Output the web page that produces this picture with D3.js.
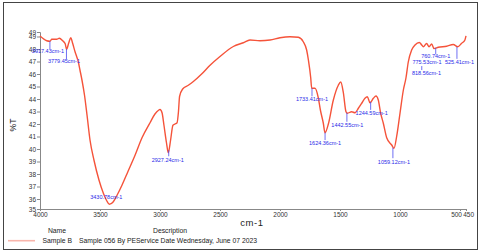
<!DOCTYPE html>
<html><head><meta charset="utf-8">
<script src="https://cdn.jsdelivr.net/npm/d3@7"></script>
<style>
html,body{margin:0;padding:0;background:#fff;}
svg{display:block;font-family:"Liberation Sans",Arial,sans-serif;}
</style></head>
<body><svg id="c" width="480" height="252"></svg>
<script>
// ---- data ----
const wavenumber = [4000,3944,3917,3902,3861,3839,3811,3790,3779,3760,3744,3728,3708,3694,3681,3667,3650,3629,3608,3583,3550,3508,3472,3444,3422,3389,3358,3317,3267,3208,3150,3083,3042,3012,3000,2983,2967,2946,2931,2912,2892,2875,2858,2846,2837,2811,2764,2722,2653,2583,2500,2389,2306,2250,2167,2083,2000,1917,1847,1806,1778,1763,1744,1736,1708,1681,1663,1639,1625,1597,1556,1514,1494,1472,1450,1439,1403,1375,1347,1319,1292,1272,1250,1222,1200,1181,1161,1139,1111,1069,1050,1028,1000,972,950,931,903,875,839,819,806,778,758,736,717,681,611,556,519,486,460,450];
const transmittance = [49.04,48.66,48.62,48.78,48.78,48.86,48.66,48.42,47.98,48.5,48.9,48.46,47.78,47.38,46.98,46.32,45.5,44.3,42.7,40.7,39.1,37.5,36.46,35.86,35.58,35.78,36.3,37.1,38.2,39.5,40.9,42.1,42.8,43.1,43.16,42.9,41.9,40.5,39.7,40.7,41.9,42.0,42.1,43.0,44.2,44.8,45.1,45.4,46.0,46.7,47.4,48.2,48.5,48.72,48.66,48.72,48.9,48.98,48.94,48.58,47.92,47.1,45.7,44.86,44.86,44.1,43.1,42.06,41.3,42.0,43.9,45.1,45.36,44.5,42.98,42.86,42.98,42.9,43.26,43.66,44.06,44.18,43.7,44.06,44.24,43.92,42.86,42.06,40.9,40.32,40.06,41.0,42.86,44.72,45.7,46.96,47.92,48.32,48.52,48.32,48.18,48.44,48.18,48.4,48.04,48.14,48.22,48.36,48.18,48.46,48.7,49.05];
const peakWn = [3917.43,3779.45,3430.78,2927.24,1733.41,1624.36,1442.55,1244.59,1059.12,818.56,775.53,760.74,525.41];
const peakLabels = peakWn.map(w => w.toFixed(2) + "cm-1");
const xTicks = [4000,3500,3000,2500,2000,1500,1000,500,450];
const yTicks = [35.2,36,37,38,39,40,41,42,43,44,45,46,47,48,49,49.36];
const seriesName = "Sample B";
const seriesDesc = "Sample 056 By PEService Date Wednesday, June 07 2023";

// ---- layout (label placement, px relative to the peak point) ----
// [text dx, text dy, line start, line end]
const peakLayout = [
  [-2, 9.5, 0, 8],
  [-2.5, 12, 0, 10],
  [-2, -5.5, null, null],
  [-1, 9.5, 0, 6],
  [0, 11, 0, 8],
  [0, 10.5, 0, 7.5],
  [0.5, 12, 0, 9],
  [1, 11, 0, 8],
  [1, 15, 1, 11.5],
  [4.7, 28.3, 21, 25],
  [0, 18.3, null, null],
  [7, 10.2, 1.5, 8],
  [2.5, 15.5, 0.5, 12.5]
];

const svg = d3.select("#c");
const x = d3.scaleLinear().domain([4000, 450]).range([40, 466]);
const y = d3.scaleLinear().domain([35.2, 49.36]).range([209, 32]);

// outer frame
svg.append("rect").attr("x", 3.5).attr("y", 2.5).attr("width", 474).attr("height", 247)
  .attr("fill", "none").attr("stroke", "#444").attr("stroke-width", 1);

// axes
const xAxis = d3.axisBottom(x).tickValues(xTicks).tickSize(2).tickPadding(1).tickFormat(d3.format("d"));
const gx = svg.append("g").attr("transform", "translate(0,209)").call(xAxis);
const yAxis = d3.axisLeft(y).tickValues(yTicks).tickSize(3).tickPadding(1).tickFormat(d => String(Math.floor(d)));
const gy = svg.append("g").attr("transform", "translate(40,0)").call(yAxis);
[gx, gy].forEach(g => {
  g.select(".domain").attr("stroke", "#888");
  g.selectAll(".tick line").attr("stroke", "#888");
  g.selectAll(".tick text").attr("fill", "#333").attr("font-size", "6.5px")
   .attr("font-family", "Liberation Sans, Arial, sans-serif");
});
// the two closely spaced end ticks print side by side ("500450")
gx.selectAll(".tick").filter(d => d === 500).select("text").attr("text-anchor", "end").attr("x", 1.5);
gx.selectAll(".tick").filter(d => d === 450).select("text").attr("text-anchor", "start").attr("x", -3.3);

// axis titles
svg.append("text").attr("x", 252).attr("y", 226).attr("text-anchor", "middle")
  .attr("font-size", "9.5px").attr("letter-spacing", "0.6px").attr("fill", "#222").text("cm-1");
svg.append("text").attr("transform", "translate(16,125) rotate(-90)").attr("text-anchor", "middle")
  .attr("font-size", "8.5px").attr("fill", "#222").text("%T");

// spectrum
const pts = wavenumber.map((w, i) => [w, transmittance[i]]);
const line = d3.line().x(d => x(d[0])).y(d => y(d[1])).curve(d3.curveMonotoneX);
svg.append("path").datum(pts).attr("d", line).attr("fill", "none")
  .attr("stroke", "#f5533a").attr("stroke-width", 1.4);

// interpolate curve value at a wavenumber
function tAt(w) {
  for (let i = 0; i < wavenumber.length - 1; i++) {
    const a = wavenumber[i], b = wavenumber[i + 1];
    if (w <= a && w >= b) {
      const f = (a - w) / (a - b);
      return transmittance[i] + f * (transmittance[i + 1] - transmittance[i]);
    }
  }
  return transmittance[transmittance.length - 1];
}

// peak annotations
const gp = svg.append("g");
peakWn.forEach((w, i) => {
  const [dx, dy, l0, l1] = peakLayout[i];
  const px = x(w), py = y(tAt(w));
  if (l0 !== null) {
    gp.append("line").attr("x1", px + (i === 11 ? dx : 0)).attr("x2", px + (i === 11 ? dx : 0))
      .attr("y1", py + l0).attr("y2", py + l1).attr("stroke", "#4a4af0").attr("stroke-width", 0.8);
  }
  gp.append("text").attr("x", px + dx).attr("y", py + dy).attr("dy", "0.35em")
    .attr("text-anchor", "middle").attr("font-size", "5.5px").attr("fill", "#2a2ae8")
    .text(peakLabels[i]);
});

// legend
svg.append("text").attr("x", 57).attr("y", 231).attr("dy", "0.35em").attr("text-anchor", "middle")
  .attr("font-size", "6.8px").attr("fill", "#222").text("Name");
svg.append("text").attr("x", 170).attr("y", 231).attr("dy", "0.35em").attr("text-anchor", "middle")
  .attr("font-size", "6.8px").attr("fill", "#222").text("Description");
svg.append("line").attr("x1", 8).attr("x2", 35).attr("y1", 240.7).attr("y2", 240.7)
  .attr("stroke", "#f8b5ab").attr("stroke-width", 1.6);
svg.append("text").attr("x", 42.5).attr("y", 240.7).attr("dy", "0.35em")
  .attr("font-size", "6.8px").attr("fill", "#222").text(seriesName);
svg.append("text").attr("x", 79).attr("y", 240.7).attr("dy", "0.35em")
  .attr("font-size", "6.8px").attr("fill", "#222").text(seriesDesc);
</script></body></html>
